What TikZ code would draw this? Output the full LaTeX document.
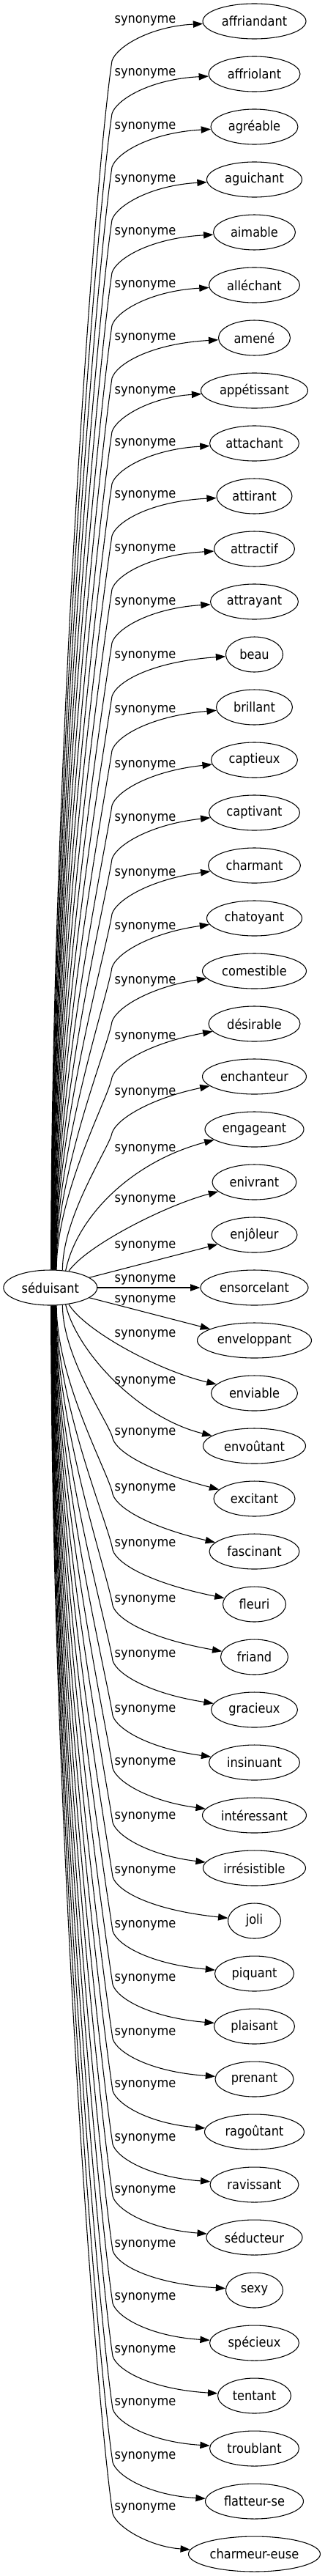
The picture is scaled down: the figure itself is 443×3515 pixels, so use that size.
\documentclass[tikz,border=0pt]{standalone}
\usepackage{fontspec}
\setmainfont[FakeStretch=0.9]{DejaVu Sans}
\usetikzlibrary{shapes.geometric,arrows.meta,calc}
\begin{document}
\begin{tikzpicture}[x=0.75pt,y=-0.75pt,
  every node/.style={font=\fontsize{13.5}{16}\selectfont},
  word/.style={draw, ellipse, line width=0.8pt, inner sep=0pt, minimum height=36pt},
  lbl/.style={inner sep=0pt},
  syn/.style={line width=0.8pt, -{Triangle[length=10pt,width=7pt]}}]
\useasboundingbox (0,0) rectangle (443,3515);
\node[word, minimum width=96pt] (src) at (68.8,1757) {séduisant};
\foreach \i/\txt/\rx/\L in {
 0/affriandant/70.5/28, 1/affriolant/62.5/100, 2/agréable/59.5/173, 3/aguichant/65/245,
 4/aimable/56/317, 5/alléchant/62/389, 6/amené/49/461, 7/appétissant/73/534,
 8/attachant/61/605, 9/attirant/51.5/676, 10/attractif/55/749, 11/attrayant/60/822,
 12/beau/39/895, 13/brillant/52/969, 14/captieux/59/1044, 15/captivant/62/1117,
 16/charmant/63/1192, 17/chatoyant/65/1265, 18/comestible/71/1339, 19/désirable/62.5/1415,
 20/enchanteur/71/1491, 21/engageant/67.5/1568, 22/enivrant/57.5/1637, 23/enjôleur/58.5/1700,
 24/ensorcelant/73.5/1746, 25/enveloppant/78/1774, 26/enviable/59/1821, 27/envoûtant/70/1885,
 28/excitant/55.5/1955, 29/fascinant/61.5/2031, 30/fleuri/43/2107, 31/friand/46/2183,
 32/gracieux/59/2258, 33/insinuant/62/2333, 34/intéressant/71/2405, 35/irrésistible/70/2479,
 36/joli/36/2553, 37/piquant/54/2627, 38/plaisant/55/2700, 39/prenant/53.5/2774,
 40/ragoûtant/68/2845, 41/ravissant/60.5/2918, 42/séducteur/65.5/2989, 43/sexy/39/3063,
 44/spécieux/61/3135, 45/tentant/50/3207, 46/troublant/61/3279, 47/flatteur-se/67/3352,
 48/charmeur-euse/90/3422}{
  \pgfmathsetmacro\T{29+72*\i}
  \node[word, minimum width=1.5pt*\rx] (t\i) at (347.5,\T) {\txt};
  \node[lbl] (l\i) at (198.5,\L) {synonyme};
}
% upper edges
\foreach \i/\th/\L in {0/88/28, 1/87/100, 2/86/173, 3/85/245, 4/84/317, 5/84/389, 6/83/461,
 7/82/534, 8/81/605, 9/80/676, 10/79/749, 11/78/822, 12/77/895, 13/76/969, 14/75/1044,
 15/74/1117, 16/74/1192, 17/73/1265, 18/72/1339, 19/71/1415, 20/55/1491}{
  \pgfmathsetmacro\My{\L+55}
  \pgfmathsetmacro\D{1734-\My}
  \pgfmathsetmacro\Ca{0.4*\D}
  \pgfmathsetmacro\Cbx{153-0.015*\D}
  \pgfmathsetmacro\Cby{\My+0.1*\D}
  \pgfmathsetmacro\Ccy{\My-19}
  \pgfmathsetmacro\Cdy{\L+8}
  \draw[syn] (src.\th) .. controls ($(src.\th)+(0,-\Ca)$) and (\Cbx,\Cby) .. (153,\My)
    .. controls (159,\Ccy) and (205,\Cdy) .. (t\i);
}
% near-centre edges
\draw[syn] (src.48) .. controls (105,1660) and (180,1585) .. (t21);
\draw[syn] (src.42) .. controls (118,1700) and (225,1645) .. (t22);
\draw[syn] (src) -- (t23);
\draw[syn] (src) -- (t24);
\draw[syn] (src) -- (t25);
\draw[syn] (src.-42) .. controls (115,1815) and (215,1870) .. (t26);
\draw[syn] (src.-48) .. controls (105,1845) and (190,1935) .. (t27);
% lower edges
\foreach \i/\th/\L in {28/-55/1955, 29/-71/2031, 30/-72/2107, 31/-73/2183, 32/-74/2258,
 33/-74/2333, 34/-75/2405, 35/-76/2479, 36/-77/2553, 37/-78/2627, 38/-79/2700, 39/-80/2774,
 40/-81/2845, 41/-82/2918, 42/-83/2989, 43/-84/3063, 44/-84/3135, 45/-85/3207, 46/-86/3279,
 47/-87/3352, 48/-88/3422}{
  \pgfmathsetmacro\My{\L+8}
  \pgfmathsetmacro\D{\My-1780}
  \pgfmathsetmacro\Ca{0.4*\D}
  \pgfmathsetmacro\Cbx{154-0.015*\D}
  \pgfmathsetmacro\Cby{\My-0.1*\D}
  \pgfmathsetmacro\Ccy{\L+27}
  \pgfmathsetmacro\Cdy{\L+53}
  \draw[syn] (src.\th) .. controls ($(src.\th)+(0,\Ca)$) and (\Cbx,\Cby) .. (154,\My)
    .. controls (160,\Ccy) and (205,\Cdy) .. (t\i);
}
\end{tikzpicture}
\end{document}
